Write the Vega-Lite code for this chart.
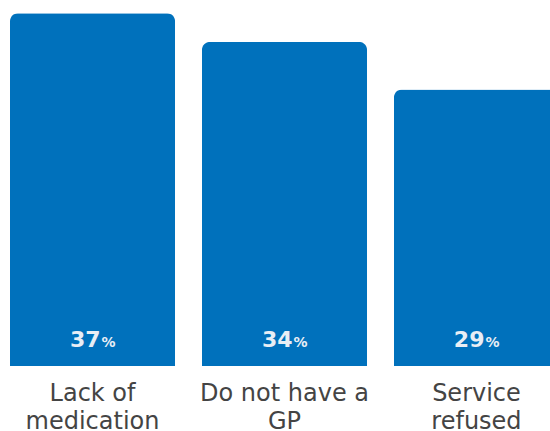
{
  "$schema": "https://vega.github.io/schema/vega-lite/v6.json",
  "autosize": "none",
  "padding": {"left": 0, "top": 0, "right": 0, "bottom": 65},
  "width": 569,
  "height": 366,
  "background": "white",
  "config": {"view": {"stroke": null}},
  "data": {"values": [
    {"category": "Lack of medication", "value": 37, "pct": "%"},
    {"category": "Do not have a GP", "value": 34, "pct": "%"},
    {"category": "Service refused", "value": 29, "pct": "%"}
  ]},
  "encoding": {
    "x": {
      "field": "category", "type": "nominal", "sort": null,
      "scale": {"paddingInner": 0.14, "paddingOuter": 0.052},
      "axis": {
        "title": null, "ticks": false, "domain": false, "labelAngle": 0,
        "labelFont": "DejaVu Sans", "labelFontWeight": "normal", "labelFontSize": 24,
        "labelColor": "#444444", "labelPadding": 15, "labelLineHeight": 28,
        "labelLimit": 300, "labelOverlap": false, "labelBound": false, "labelFlush": false,
        "labelExpr": "datum.label == 'Lack of medication' ? ['Lack of', 'medication'] : datum.label == 'Do not have a GP' ? ['Do not have a', 'GP'] : ['Service', 'refused']"
      }
    }
  },
  "layer": [
    {
      "mark": {"type": "bar", "color": "#0071BC", "cornerRadiusTopLeft": 8, "cornerRadiusTopRight": 8},
      "encoding": {
        "y": {"field": "value", "type": "quantitative", "scale": {"domain": [0, 38.4], "nice": false}, "axis": null}
      }
    },
    {
      "mark": {"type": "text", "color": "#e8eef5", "font": "DejaVu Sans", "fontWeight": "bold", "fontSize": 22, "align": "right", "dx": 8, "baseline": "alphabetic", "y": 347},
      "encoding": {"text": {"field": "value", "type": "quantitative"}}
    },
    {
      "mark": {"type": "text", "color": "#e8eef5", "font": "DejaVu Sans", "fontWeight": "bold", "fontSize": 14, "align": "left", "dx": 9, "baseline": "alphabetic", "y": 347},
      "encoding": {"text": {"field": "pct", "type": "nominal"}}
    }
  ]
}
